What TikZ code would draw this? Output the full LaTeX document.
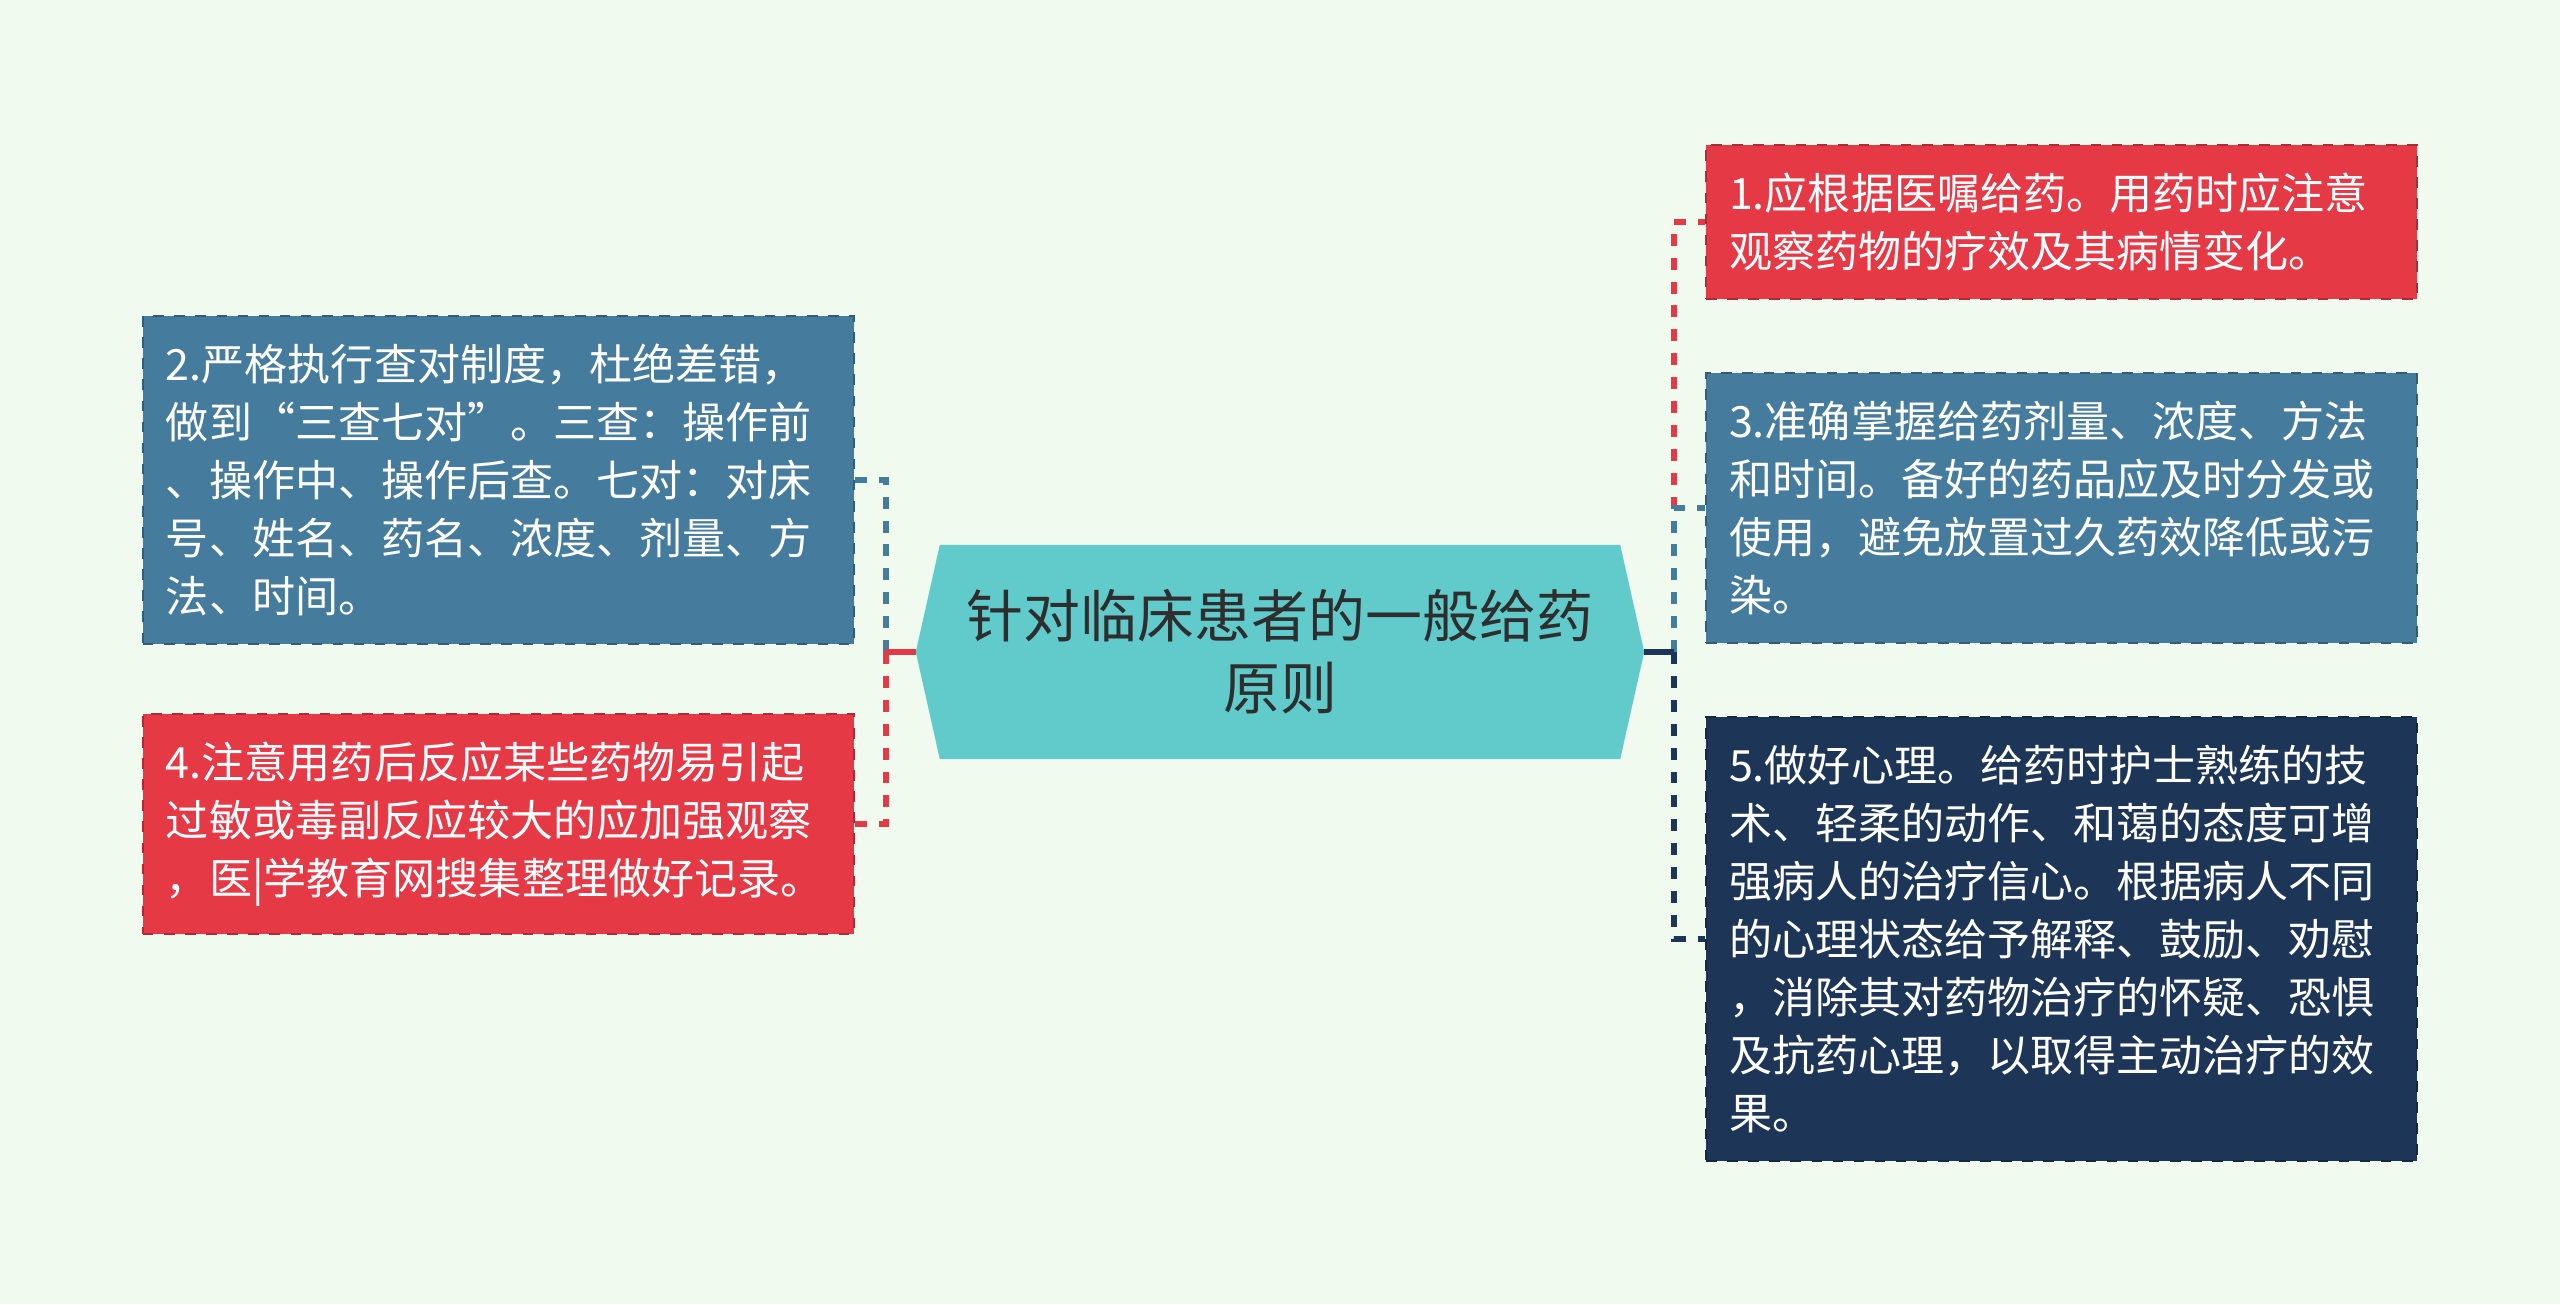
\documentclass[tikz,border=0pt]{standalone}
\usepackage{fontspec}
\newfontfamily\cjk{Noto Sans CJK SC}
\usetikzlibrary{backgrounds}
\definecolor{bgmint}{HTML}{F1FAEE}
\definecolor{boxred}{HTML}{E63946}
\definecolor{boxblue}{HTML}{457B9D}
\definecolor{boxnavy}{HTML}{1D3557}
\definecolor{hubteal}{HTML}{61CBCC}
\definecolor{hubink}{HTML}{2E2E2E}
\begin{document}
\begin{tikzpicture}[
  font=\cjk,
  card/.style={draw=#1!75!black, dashed, line width=.6pt, fill=#1, text=white,
               text width=6.65cm, inner xsep=.23cm, inner ysep=.28cm, align=left,
               font=\cjk\fontsize{12.25pt}{16.5pt}\selectfont},
  hub/.style={minimum width=7.27cm, minimum height=2.13cm, align=center, text=hubink,
              font=\cjk\fontsize{16.2pt}{20.5pt}\selectfont},
  wire/.style={draw=#1, line width=1.5pt},
  gapline/.style={dash pattern=on 3.4pt off 3.4pt}
]
  \node[hub] (topic) at (12.80,-6.52) {针对临床患者的一般给药\\原则};
  \node[card=boxred, anchor=west] (order) at (17.05,-2.22) {1.应根据医嘱给药。用药时应注意\\观察药物的疗效及其病情变化。};
  \node[card=boxblue, anchor=west] (dose) at (17.05,-5.08) {3.准确掌握给药剂量、浓度、方法\\和时间。备好的药品应及时分发或\\使用，避免放置过久药效降低或污\\染。};
  \node[card=boxnavy, anchor=west] (mind) at (17.05,-9.39) {5.做好心理。给药时护士熟练的技\\术、轻柔的动作、和蔼的态度可增\\强病人的治疗信心。根据病人不同\\的心理状态给予解释、鼓励、劝慰\\，消除其对药物治疗的怀疑、恐惧\\及抗药心理，以取得主动治疗的效\\果。};
  \node[card=boxblue, anchor=east] (check) at (8.55,-4.80) {2.严格执行查对制度，杜绝差错，\\做到“三查七对”。三查：操作前\\、操作中、操作后查。七对：对床\\号、姓名、药名、浓度、剂量、方\\法、时间。};
  \node[card=boxred, anchor=east] (react) at (8.55,-8.24) {4.注意用药后反应某些药物易引起\\过敏或毒副反应较大的应加强观察\\，医|学教育网搜集整理做好记录。};
  \coordinate (jl) at (8.86,-6.52);
  \coordinate (jr) at (16.74,-6.52);
  \begin{scope}[on background layer]
    \fill[bgmint] (0,0) rectangle (25.6,-13.04);
    \fill[hubteal] (topic.west) -- ([xshift=.24cm]topic.north west) -- ([xshift=-.24cm]topic.north east)
      -- (topic.east) -- ([xshift=-.24cm]topic.south east) -- ([xshift=.24cm]topic.south west) -- cycle;
  \end{scope}
  \draw[wire=boxblue] (topic.west) -- (jl);
  \draw[wire=boxblue, gapline] (jl) |- (check.east);
  \draw[wire=boxred] (topic.west) -- (jl);
  \draw[wire=boxred, gapline] (jl) |- (react.east);
  \draw[wire=boxred] (topic.east) -- (jr);
  \draw[wire=boxred, gapline] (jr) |- (order.west);
  \draw[wire=boxblue] (topic.east) -- (jr);
  \draw[wire=boxblue, gapline] (jr) |- (dose.west);
  \draw[wire=boxnavy] (topic.east) -- (jr);
  \draw[wire=boxnavy, gapline] (jr) |- (mind.west);
\end{tikzpicture}
\end{document}
